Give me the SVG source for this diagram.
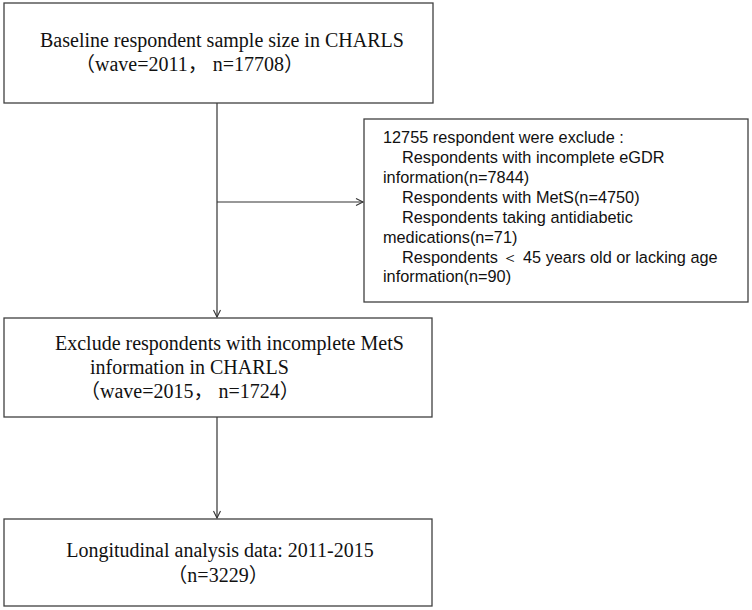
<svg xmlns="http://www.w3.org/2000/svg" width="752" height="610" viewBox="0 0 752 610">
<style>
.box{fill:#fff;stroke:#404040;stroke-width:1.3}
.serif{font-family:"Liberation Serif","Noto Sans CJK SC",serif;font-size:20px;fill:#111}
.sans{font-family:"Liberation Sans",Arial,sans-serif;font-size:16.3px;fill:#111}
.conn{stroke:#333;stroke-width:1.2;fill:none}
</style>
<defs>
<marker id="arr" markerWidth="10" markerHeight="10" refX="8" refY="4" orient="auto" markerUnits="userSpaceOnUse">
<polyline points="1,0.5 8,4 1,7.5" fill="none" stroke="#333" stroke-width="1.1"/>
</marker>
</defs>
<rect width="752" height="610" fill="#fff"/>
<g id="connectors">
<line class="conn" x1="217" y1="103" x2="217" y2="317" marker-end="url(#arr)"/>
<line class="conn" x1="217" y1="202" x2="363" y2="202" marker-end="url(#arr)"/>
<line class="conn" x1="217" y1="417" x2="217" y2="518" marker-end="url(#arr)"/>
</g>
<g id="baseline">
<rect class="box" x="4" y="3" width="429" height="100"/>
<text class="serif" x="40" y="47">Baseline respondent sample size in CHARLS</text>
<text class="serif" x="75" y="71">（wave=2011， n=17708）</text>
</g>
<g id="excluded">
<rect class="box" x="364" y="119" width="384" height="183"/>
<text class="sans" x="383" y="143">12755 respondent were exclude :</text>
<text class="sans" x="402" y="163">Respondents with incomplete eGDR</text>
<text class="sans" x="383" y="183">information(n=7844)</text>
<text class="sans" x="402" y="203">Respondents with MetS(n=4750)</text>
<text class="sans" x="402" y="223">Respondents taking antidiabetic</text>
<text class="sans" x="383" y="243">medications(n=71)</text>
<text class="sans" x="402" y="263">Respondents ＜ 45 years old or lacking age</text>
<text class="sans" x="383" y="282">information(n=90)</text>
</g>
<g id="wave2015">
<rect class="box" x="4" y="318" width="428" height="99"/>
<text class="serif" x="55" y="350">Exclude respondents with incomplete MetS</text>
<text class="serif" x="90" y="374">information in CHARLS</text>
<text class="serif" x="80" y="398">（wave=2015， n=1724）</text>
</g>
<g id="longitudinal">
<rect class="box" x="4" y="519" width="428" height="87"/>
<text class="serif" x="220" y="557" text-anchor="middle">Longitudinal analysis data: 2011-2015</text>
<text class="serif" x="218" y="582" text-anchor="middle">（n=3229）</text>
</g>
</svg>
